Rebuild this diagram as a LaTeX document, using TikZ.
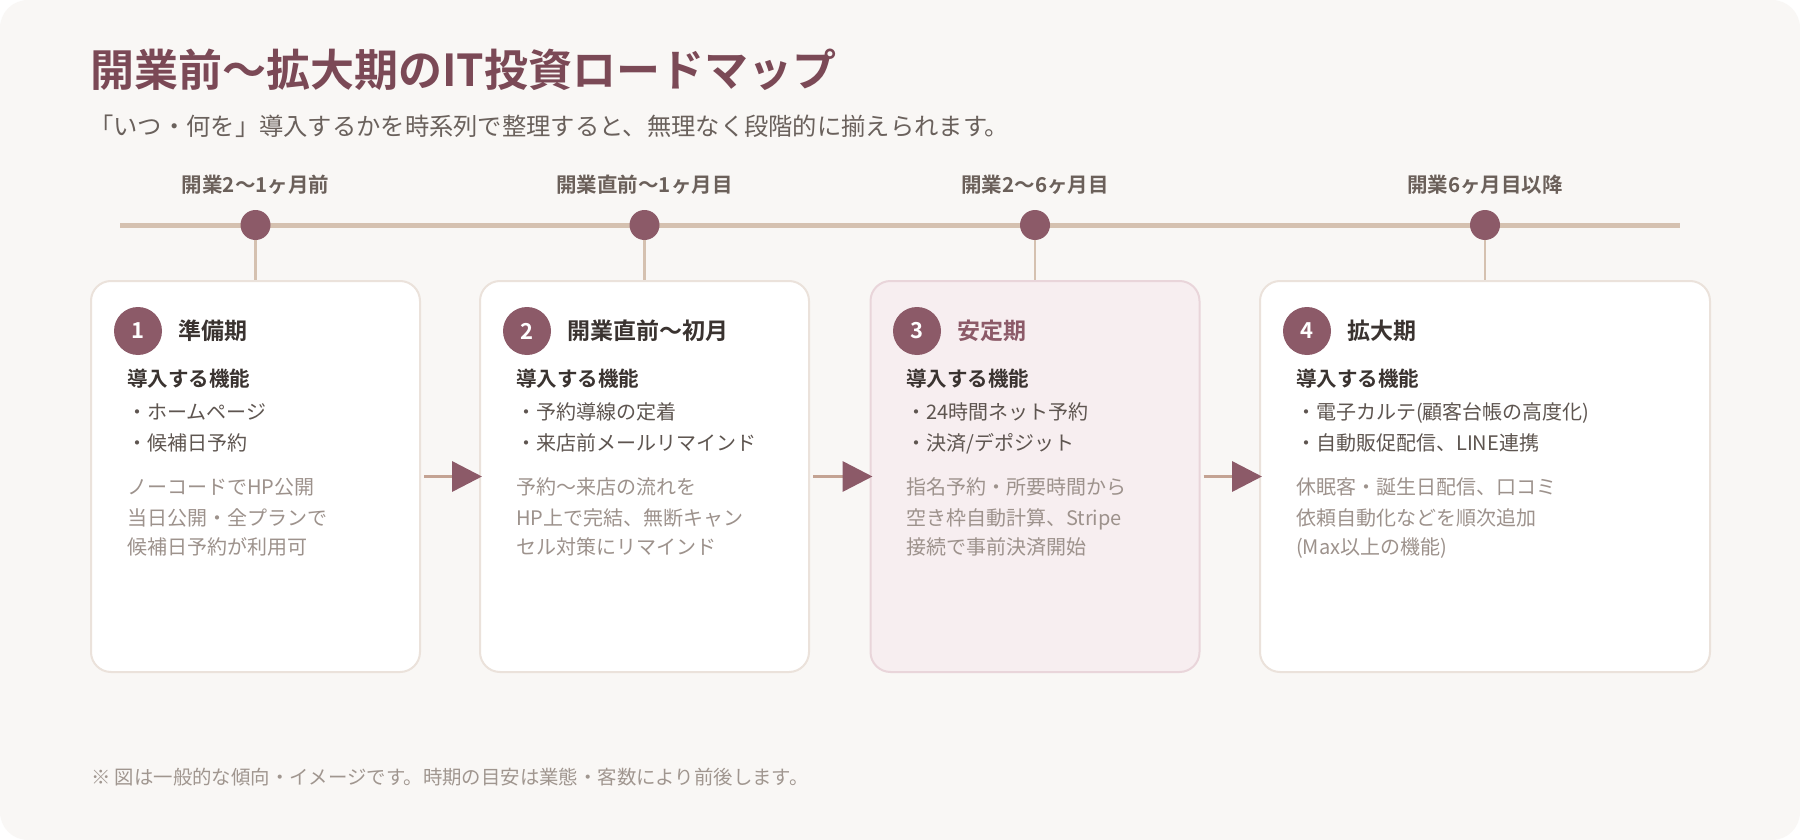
\documentclass[tikz,border=0pt]{standalone}
\usepackage{fontspec}
\setmainfont{Noto Sans CJK JP}[BoldFont={Noto Sans CJK JP Bold}]
\usetikzlibrary{arrows.meta}
\definecolor{bgpaper}{HTML}{F9F7F5}
\definecolor{plum}{HTML}{8C5A68}
\definecolor{titleplum}{HTML}{7B4956}
\definecolor{sand}{HTML}{D5C1B0}
\definecolor{arrowsand}{HTML}{C4A393}
\definecolor{cardline}{HTML}{EBE2DB}
\definecolor{pinkfill}{HTML}{F7EEF0}
\definecolor{pinkline}{HTML}{E9D5DA}
\definecolor{inkdark}{HTML}{3A3330}
\definecolor{inkmid}{HTML}{5E5550}
\definecolor{inklight}{HTML}{9D928C}
\definecolor{subgray}{HTML}{6A615C}
\definecolor{labelgray}{HTML}{6B605A}
\definecolor{notegray}{HTML}{A0968F}

\begin{document}
\begin{tikzpicture}[x=1pt,y=-1pt,
  card/.style={draw=cardline,line width=2pt,fill=white,rounded corners=20pt,minimum width=329pt,minimum height=391pt,inner sep=0pt},
  pinkcard/.style={card,draw=pinkline,fill=pinkfill},
  dot/.style={circle,fill=plum,minimum size=30pt,inner sep=0pt},
  stem/.style={sand,line width=2.5pt},
  flow/.style={arrowsand,line width=3.5pt,shorten <=3pt,shorten >=-3pt,-{Triangle[length=30pt,width=30pt,color=plum]}},
  num/.style={circle,fill=plum,minimum size=48pt,inner sep=0pt,text=white,font=\bfseries\fontsize{22}{22}\selectfont},
  ttl/.style={anchor=west,inner sep=0pt,text=titleplum,font=\bfseries\fontsize{44}{44}\selectfont,text height=38.7pt,text depth=5.3pt},
  sub/.style={anchor=west,inner sep=0pt,text=subgray,font=\fontsize{24.3}{25}\selectfont,text height=21.4pt,text depth=2.9pt},
  when/.style={inner sep=0pt,text=labelgray,font=\bfseries\fontsize{20.5}{21}\selectfont,text height=18pt,text depth=2.5pt},
  phase/.style={anchor=west,inner sep=0pt,text=inkdark,font=\bfseries\fontsize{23}{23}\selectfont,text height=20.2pt,text depth=2.8pt},
  feat/.style={anchor=west,inner sep=0pt,text=inkdark,font=\bfseries\fontsize{20.5}{21}\selectfont,text height=18pt,text depth=2.5pt},
  item/.style={anchor=west,inner sep=0pt,text=inkmid,font=\fontsize{20}{20}\selectfont,text height=17.6pt,text depth=2.4pt},
  memo/.style={item,text=inklight},
  foot/.style={anchor=west,inner sep=0pt,text=notegray,font=\fontsize{19.4}{20}\selectfont,text height=17.1pt,text depth=2.3pt}]

\fill[white] (0,0) rectangle (1800,840);
\fill[bgpaper,rounded corners=28pt] (0,0) rectangle (1800,840);
\useasboundingbox (0,0) rectangle (1800,840);

\node[ttl] (title) at (90,70) {開業前〜拡大期のIT投資ロードマップ};
\node[sub] (subtitle) at (89,126) {「いつ・何を」導入するかを時系列で整理すると、無理なく段階的に揃えられます。};

\coordinate (lineL) at (120,225);
\coordinate (lineR) at (1680,225);
\draw[sand,line width=5pt] (lineL) -- (lineR);

\node[card] (card1) at (255.5,476.5) {};
\node[card] (card2) at (644.5,476.5) {};
\node[pinkcard] (card3) at (1035,476.5) {};
\node[card,minimum width=450pt] (card4) at (1485,476.5) {};

\node[dot] (dot1) at (255.5,225) {};
\node[dot] (dot2) at (644.5,225) {};
\node[dot] (dot3) at (1035,225) {};
\node[dot] (dot4) at (1485,225) {};

\node[when] (when1) at (255.5,185) {開業2〜1ヶ月前};
\node[when] (when2) at (644.5,185) {開業直前〜1ヶ月目};
\node[when] (when3) at (1035,185) {開業2〜6ヶ月目};
\node[when] (when4) at (1485,185) {開業6ヶ月目以降};

\draw[stem] (dot1) -- (card1);
\draw[stem] (dot2) -- (card2);
\draw[stem] (dot3) -- (card3);
\draw[stem] (dot4) -- (card4);

\draw[flow] (card1) -- (card2);
\draw[flow] (card2) -- (card3);
\draw[flow] (card3) -- (card4);

\node[num] (num1) at (138,331) {1};
\node[phase] (phase1) at (178,331) {準備期};
\node[feat] (feat1) at (127,379) {導入する機能};
\node[item] (item1a) at (127,412) {・ホームページ};
\node[item] (item1b) at (127,443) {・候補日予約};
\node[memo] (memo1a) at (127,487) {ノーコードでHP公開};
\node[memo] (memo1b) at (127,518) {当日公開・全プランで};
\node[memo] (memo1c) at (127,547) {候補日予約が利用可};

\node[num] (num2) at (527,331) {2};
\node[phase] (phase2) at (567,331) {開業直前〜初月};
\node[feat] (feat2) at (516,379) {導入する機能};
\node[item] (item2a) at (516,412) {・予約導線の定着};
\node[item] (item2b) at (516,443) {・来店前メールリマインド};
\node[memo] (memo2a) at (516,487) {予約〜来店の流れを};
\node[memo] (memo2b) at (516,518) {HP上で完結、無断キャン};
\node[memo] (memo2c) at (516,547) {セル対策にリマインド};

\node[num] (num3) at (917,331) {3};
\node[phase,text=plum] (phase3) at (957,331) {安定期};
\node[feat] (feat3) at (906,379) {導入する機能};
\node[item] (item3a) at (906,412) {・24時間ネット予約};
\node[item] (item3b) at (906,443) {・決済/デポジット};
\node[memo] (memo3a) at (906,487) {指名予約・所要時間から};
\node[memo] (memo3b) at (906,518) {空き枠自動計算、Stripe};
\node[memo] (memo3c) at (906,547) {接続で事前決済開始};

\node[num] (num4) at (1307,331) {4};
\node[phase] (phase4) at (1347,331) {拡大期};
\node[feat] (feat4) at (1296,379) {導入する機能};
\node[item] (item4a) at (1296,412) {・電子カルテ(顧客台帳の高度化)};
\node[item] (item4b) at (1296,443) {・自動販促配信、LINE連携};
\node[memo] (memo4a) at (1296,487) {休眠客・誕生日配信、口コミ};
\node[memo] (memo4b) at (1296,518) {依頼自動化などを順次追加};
\node[memo] (memo4c) at (1296,547) {(Max以上の機能)};

\node[foot] (note) at (91,777) {※ 図は一般的な傾向・イメージです。時期の目安は業態・客数により前後します。};
\end{tikzpicture}
\end{document}
